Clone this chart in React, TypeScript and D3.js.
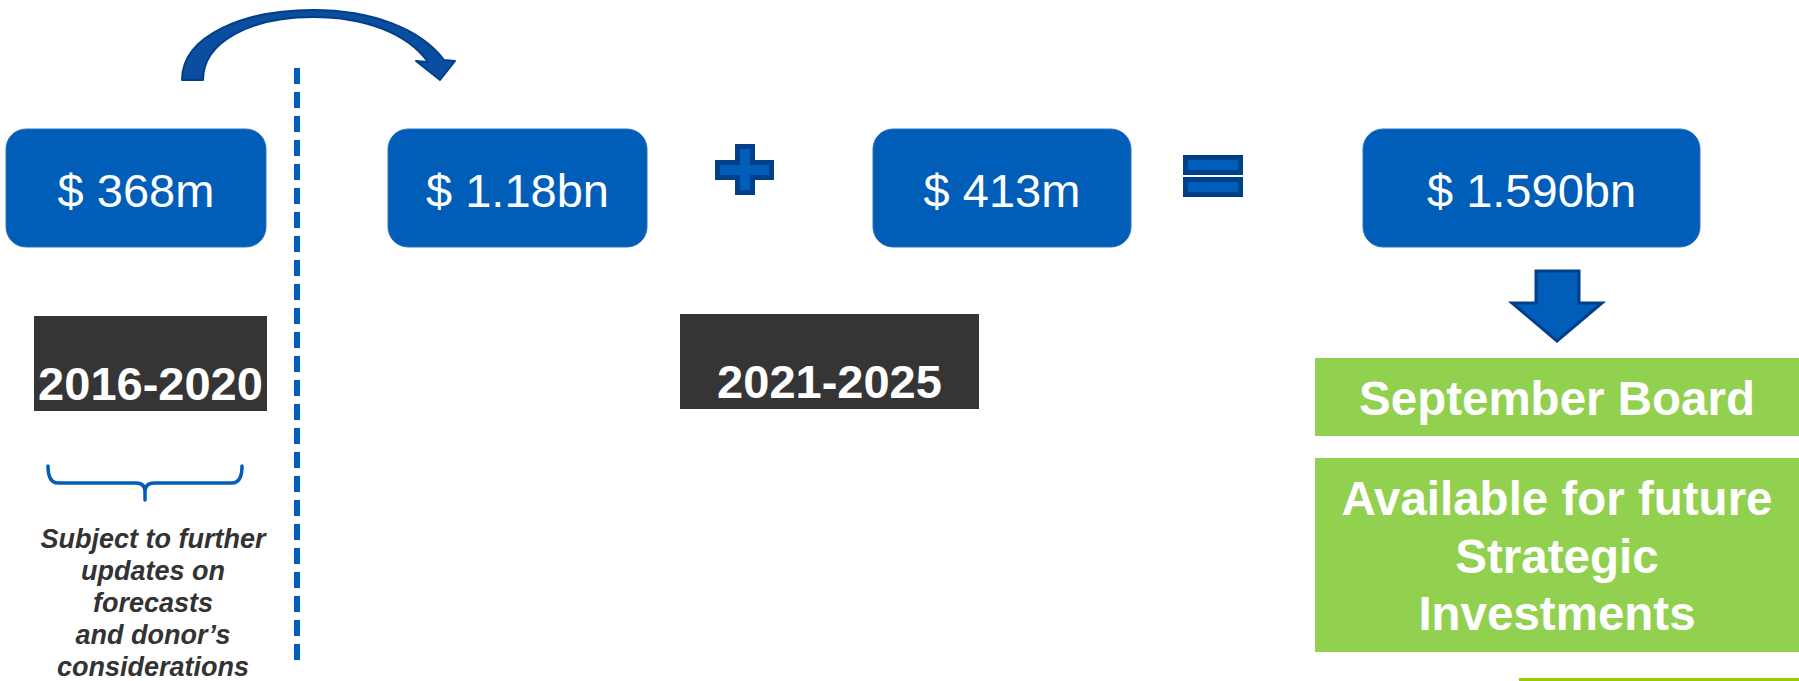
import React from "react";
import * as d3 from "d3";

// amounts shown in the blue boxes, left to right
const amounts = ["$ 368m", "$ 1.18bn", "$ 413m", "$ 1.590bn"];
const periods = ["2016-2020", "2021-2025"];
const noteLines = [
  "Subject to further",
  "updates on",
  "forecasts",
  "and donor\u2019s",
  "considerations",
];
const outcomeTop = ["September Board"];
const outcomeBottom = ["Available for future", "Strategic", "Investments"];

const W = 1799;
const H = 681;

const BLUE = "#005eb8";
const BLUE_DARK = "#003f8a";
const GREEN = "#92d050";
const DARK = "#353535";

// box geometry [x0, x1]
const boxX: [number, number][] = [
  [6, 266],
  [388, 647],
  [873, 1131],
  [1363, 1700],
];
const periodX: [number, number][] = [
  [34, 267],
  [680, 979],
];
const periodY: [number, number][] = [
  [316, 411],
  [314, 409],
];

// plus sign outline, inset by d
function plusPath(d: number) {
  const p = d3.path();
  const l = 715 + d, r = 774 - d, t = 144 + d, b = 195 - d;
  const vl = 735 + d, vr = 755 - d, ht = 160 + d, hb = 180 - d;
  p.moveTo(vl, t);
  p.lineTo(vr, t);
  p.lineTo(vr, ht);
  p.lineTo(r, ht);
  p.lineTo(r, hb);
  p.lineTo(vr, hb);
  p.lineTo(vr, b);
  p.lineTo(vl, b);
  p.lineTo(vl, hb);
  p.lineTo(l, hb);
  p.lineTo(l, ht);
  p.lineTo(vl, ht);
  p.closePath();
  return p.toString();
}

export default function App() {
  // curved arrow over the dashed divider
  const curve = d3.path();
  curve.moveTo(182, 80);
  curve.bezierCurveTo(182, 35, 245, 10, 313, 10);
  curve.bezierCurveTo(372, 10, 421, 29, 444, 60);
  curve.lineTo(455, 61);
  curve.lineTo(440, 80);
  curve.lineTo(416, 61);
  curve.lineTo(428, 62);
  curve.bezierCurveTo(407, 33, 364, 17, 313, 17);
  curve.bezierCurveTo(252, 17, 203, 41, 203, 80);
  curve.closePath();

  // down arrow under the total
  const down = d3.path();
  down.moveTo(1536, 271);
  down.lineTo(1579, 271);
  down.lineTo(1579, 303);
  down.lineTo(1602, 303);
  down.lineTo(1557, 341);
  down.lineTo(1512, 303);
  down.lineTo(1536, 303);
  down.closePath();

  // brace under 2016-2020
  const brace = d3.path();
  brace.moveTo(48, 466);
  brace.quadraticCurveTo(48, 483, 58, 483);
  brace.lineTo(136, 483);
  brace.quadraticCurveTo(145, 483, 145, 492);
  brace.lineTo(145, 500);
  brace.moveTo(242, 466);
  brace.quadraticCurveTo(242, 483, 232, 483);
  brace.lineTo(154, 483);
  brace.quadraticCurveTo(145, 483, 145, 492);

  const font = "'Liberation Sans', Arial, sans-serif";
  const eqBars = [155, 177];

  return (
    <svg
      width={W}
      height={H}
      style={{ position: "absolute", left: 0, top: 0, background: "#fff" }}
    >
      <path
        d={curve.toString()}
        fill="#0b4d9f"
        stroke={BLUE_DARK}
        strokeWidth={2}
        strokeLinejoin="round"
      />

      <line
        x1={297}
        x2={297}
        y1={68}
        y2={662}
        stroke={BLUE}
        strokeWidth={6}
        strokeDasharray="16,8"
      />

      {amounts.map((a, i) => (
        <g key={a}>
          <rect
            x={boxX[i][0]}
            y={129}
            width={boxX[i][1] - boxX[i][0]}
            height={118}
            rx={20}
            fill={BLUE}
            stroke="#2f73c4"
            strokeWidth={1}
          />
          <text
            x={(boxX[i][0] + boxX[i][1]) / 2}
            y={207}
            textAnchor="middle"
            fill="#fff"
            fontFamily={font}
            fontSize={47}
          >
            {a}
          </text>
        </g>
      ))}

      <path d={plusPath(0)} fill={BLUE_DARK} />
      <path d={plusPath(5)} fill={BLUE} />

      {eqBars.map((by) => (
        <g key={by}>
          <rect x={1183} y={by} width={60} height={20} fill={BLUE_DARK} />
          <rect x={1188} y={by + 5} width={50} height={10} fill={BLUE} />
        </g>
      ))}

      {periods.map((p, i) => (
        <g key={p}>
          <rect
            x={periodX[i][0]}
            y={periodY[i][0]}
            width={periodX[i][1] - periodX[i][0]}
            height={periodY[i][1] - periodY[i][0]}
            fill={DARK}
          />
          <text
            x={(periodX[i][0] + periodX[i][1]) / 2}
            y={periodY[i][1] - 11}
            textAnchor="middle"
            fill="#fff"
            fontFamily={font}
            fontWeight="bold"
            fontSize={47}
          >
            {p}
          </text>
        </g>
      ))}

      <path
        d={brace.toString()}
        fill="none"
        stroke={BLUE}
        strokeWidth={3.5}
        strokeLinecap="round"
      />

      {noteLines.map((t, i) => (
        <text
          key={t}
          x={153}
          y={548 + i * 32}
          textAnchor="middle"
          fill="#333"
          fontFamily={font}
          fontWeight="bold"
          fontStyle="italic"
          fontSize={27}
        >
          {t}
        </text>
      ))}

      <path
        d={down.toString()}
        fill={BLUE}
        stroke={BLUE_DARK}
        strokeWidth={3}
      />

      <rect x={1315} y={358} width={W - 1315} height={78} fill={GREEN} />
      {outcomeTop.map((t) => (
        <text
          key={t}
          x={1557}
          y={415}
          textAnchor="middle"
          fill="#fff"
          fontFamily={font}
          fontWeight="bold"
          fontSize={47.5}
        >
          {t}
        </text>
      ))}

      <rect x={1315} y={458} width={W - 1315} height={194} fill={GREEN} />
      {outcomeBottom.map((t, i) => (
        <text
          key={t}
          x={1557}
          y={515 + i * 57.5}
          textAnchor="middle"
          fill="#fff"
          fontFamily={font}
          fontWeight="bold"
          fontSize={47.5}
        >
          {t}
        </text>
      ))}

      <rect x={1519} y={678} width={W - 1519} height={10} fill="#99cc00" />
    </svg>
  );
}
